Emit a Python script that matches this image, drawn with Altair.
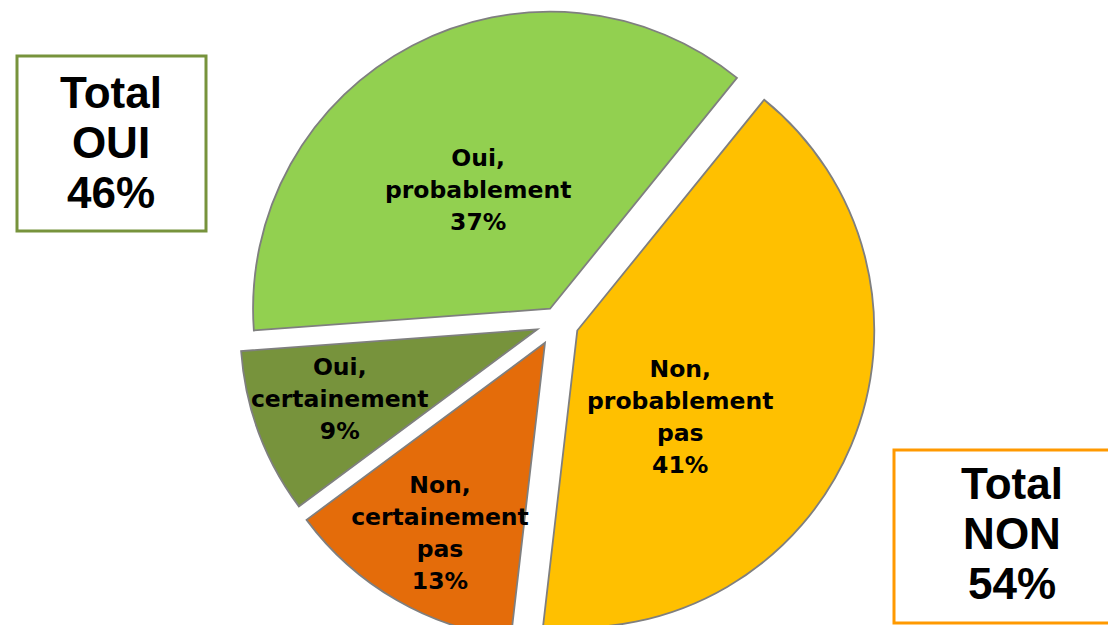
import altair as alt
import pandas as pd

# ---- data ----
CATEGORIES = ["Non, probablement pas", "Non, certainement pas", "Oui, certainement", "Oui, probablement"]
VALUES = [41, 13, 9, 37]
LABEL_TEXT = ["Non,\nprobablement\npas", "Non,\ncertainement\npas", "Oui,\ncertainement", "Oui,\nprobablement"]
GROUP = ["NON", "NON", "OUI", "OUI"]

# ---- styles / layout ----
COLORS = ["#FFC000", "#E46C0A", "#77933C", "#92D050"]
EXPLODE = [22, 24, 21, 15]          # px offset of each slice
LABEL_DIST = [135, 218, 210, 138]   # px from slice tip
LABEL_SHIFT = [17.5, -1.2, 0.6, -3.8]  # degrees from mid angle
CX, CY, R = 549, 314, 297
START = 39 * 3.141592653589793 / 180
LH = 32       # slice label line height
BOX_LH = 50   # box label line height

labels_full = [f"{t}\n{v}%" for t, v in zip(LABEL_TEXT, VALUES)]
df = pd.DataFrame({
    "category": CATEGORIES,
    "value": VALUES,
    "order": list(range(len(VALUES))),
    "label": labels_full,
    "nlines": [s.count("\n") + 1 for s in labels_full],
    "explode": EXPLODE,
    "ldist": LABEL_DIST,
    "lshift": LABEL_SHIFT,
})

base = (
    alt.Chart(df)
    .transform_window(cum="sum(value)", sort=[alt.SortField("order")], frame=[None, 0])
    .transform_joinaggregate(total="sum(value)")
    .transform_calculate(t0=f"{START} + 2*PI*(datum.cum - datum.value)/datum.total")
    .transform_calculate(t1=f"{START} + 2*PI*datum.cum/datum.total")
    .transform_calculate(mid="(datum.t0 + datum.t1)/2")
    .transform_calculate(px=f"{CX} + datum.explode*sin(datum.mid)")
    .transform_calculate(py=f"{CY} - datum.explode*cos(datum.mid)")
    .transform_calculate(la="datum.mid + datum.lshift*PI/180")
    .transform_calculate(lx="datum.px + datum.ldist*sin(datum.la)")
    .transform_calculate(ly=f"datum.py - datum.ldist*cos(datum.la) - (datum.nlines - 1)*{LH}/2")
)

arcs = base.mark_arc(radius=R, stroke="#7F7F7F", strokeWidth=1.8).encode(
    x=alt.X("px:Q", scale=None, axis=None),
    y=alt.Y("py:Q", scale=None, axis=None),
    theta=alt.Theta("t0:Q", scale=None, stack=None),
    theta2="t1:Q",
    color=alt.Color("category:N", scale=alt.Scale(domain=CATEGORIES, range=COLORS), legend=None),
)

labels = base.mark_text(
    font="DejaVu Sans", fontWeight="bold", fontSize=23.5, lineBreak="\n", lineHeight=LH,
    align="center", baseline="middle", color="black",
).encode(
    x=alt.X("lx:Q", scale=None, axis=None),
    y=alt.Y("ly:Q", scale=None, axis=None),
    text="label:N",
)

tot_oui = sum(v for v, g in zip(VALUES, GROUP) if g == "OUI")
tot_non = sum(v for v, g in zip(VALUES, GROUP) if g == "NON")
box_df_oui = pd.DataFrame({"t": [f"Total\nOUI\n{tot_oui}%"]})
box_df_non = pd.DataFrame({"t": [f"Total\nNON\n{tot_non}%"]})

box_oui = alt.Chart(box_df_oui).mark_rect(fill="white", stroke="#77933C", strokeWidth=3).encode(
    x=alt.value(9), x2=alt.value(198), y=alt.value(48), y2=alt.value(223)
)
box_non = alt.Chart(box_df_non).mark_rect(fill="white", stroke="#FF9900", strokeWidth=3).encode(
    x=alt.value(886), x2=alt.value(1130), y=alt.value(442), y2=alt.value(615)
)
txt_style = dict(font="Liberation Sans", fontWeight="bold", fontSize=44, lineBreak="\n",
                 lineHeight=BOX_LH, align="center", baseline="middle", color="black")
txt_oui = alt.Chart(box_df_oui).mark_text(**txt_style).encode(
    x=alt.value(103), y=alt.value(137 - BOX_LH), text="t:N"
)
txt_non = alt.Chart(box_df_non).mark_text(**txt_style).encode(
    x=alt.value(1004), y=alt.value(528 - BOX_LH), text="t:N"
)

chart = (
    alt.layer(arcs, labels, box_oui, box_non, txt_oui, txt_non)
    .properties(width=1100, height=617, autosize="none", padding=0)
    .configure_view(stroke=None)
)

chart.save("out.html", embed_options={"renderer": "svg", "actions": False})
